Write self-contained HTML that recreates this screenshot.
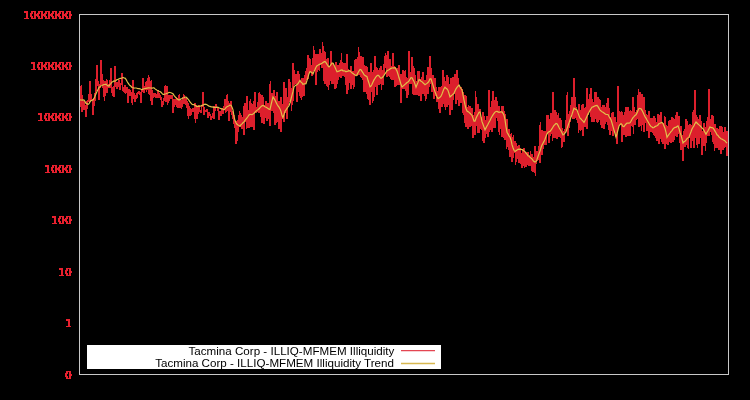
<!DOCTYPE html>
<html><head><meta charset="utf-8"><style>
html,body{margin:0;padding:0;background:#000;}
body{width:750px;height:400px;position:relative;overflow:hidden;font-family:"Liberation Sans",sans-serif;}
svg{position:absolute;left:0;top:0;}
.leg{position:absolute;left:87px;top:345px;width:354px;height:24px;background:#fff;}
.lt{position:absolute;right:47.5px;font-size:10.8px;line-height:12px;white-space:nowrap;transform:scaleX(1.076);transform-origin:right center;filter:grayscale(1);color:#000;}
</style></head><body>
<svg width="750" height="400" viewBox="0 0 750 400">
<path d="M80.0,101.1 80.7,107.3 81.4,84.8 82.1,112.0 82.8,104.1 83.5,110.3 84.2,100.9 84.9,110.3 85.6,104.9 86.3,116.6 87.0,101.6 87.7,101.8 88.4,99.9 89.1,101.6 89.8,81.0 90.5,101.3 91.2,94.4 91.9,101.0 92.6,100.8 93.3,114.7 94.0,98.5 94.7,100.9 95.4,92.9 96.1,87.8 96.8,65.0 97.5,80.9 98.2,81.9 98.9,99.7 99.6,83.6 100.3,87.7 101.0,60.0 101.7,85.0 102.4,74.5 103.1,87.9 103.8,84.1 104.5,100.6 105.2,80.9 105.9,92.6 106.6,79.0 107.3,92.8 108.0,84.3 108.7,86.1 109.4,85.1 110.1,87.3 110.8,68.2 111.5,92.8 112.2,86.9 112.9,95.8 113.6,85.7 114.3,96.9 115.0,66.0 115.7,87.2 116.4,81.8 117.1,88.9 117.8,82.4 118.5,87.2 119.2,80.4 119.9,89.5 120.6,85.0 121.3,83.7 122.0,73.5 122.7,91.4 123.4,87.0 124.1,88.0 124.8,85.3 125.5,94.2 126.2,87.2 126.9,91.1 127.6,87.0 128.3,103.4 129.0,89.6 129.7,95.4 130.4,90.2 131.1,94.9 131.8,96.6 132.5,104.6 133.2,80.2 133.9,98.6 134.6,96.4 135.3,101.6 136.0,94.7 136.7,98.4 137.4,92.4 138.1,93.6 138.8,91.4 139.5,92.5 140.2,92.3 140.9,102.5 141.6,91.1 142.3,91.0 143.0,78.0 143.7,93.4 144.4,86.3 145.1,88.9 145.8,81.7 146.5,92.1 147.2,80.8 147.9,84.6 148.6,75.0 149.3,94.2 150.0,89.5 150.7,100.6 151.4,79.7 152.1,105.3 152.8,93.5 153.5,97.9 154.2,93.1 154.9,95.1 155.6,93.3 156.3,97.7 157.0,94.8 157.7,97.7 158.4,89.8 159.1,97.6 159.8,95.0 160.5,98.8 161.2,97.7 161.9,106.9 162.6,101.4 163.3,105.1 164.0,97.7 164.7,99.4 165.4,84.8 166.1,102.1 166.8,86.4 167.5,104.9 168.2,95.4 168.9,101.4 169.6,95.3 170.3,98.9 171.0,95.6 171.7,98.7 172.4,94.6 173.1,112.5 173.8,98.9 174.5,106.5 175.2,100.3 175.9,103.3 176.6,97.5 177.3,107.4 178.0,104.5 178.7,107.8 179.4,93.8 180.1,106.7 180.8,104.5 181.5,108.8 182.2,100.3 182.9,103.4 183.6,93.8 184.3,103.5 185.0,102.2 185.7,105.3 186.4,97.4 187.1,107.9 187.8,103.4 188.5,119.0 189.2,106.1 189.9,115.7 190.6,108.2 191.3,114.6 192.0,109.3 192.7,111.1 193.4,107.9 194.1,111.7 194.8,103.0 195.5,122.5 196.2,105.3 196.9,118.8 197.6,107.4 198.3,113.8 199.0,104.6 199.7,111.8 200.4,110.4 201.1,113.1 201.8,104.8 202.5,107.1 203.2,91.8 203.9,115.2 204.6,111.3 205.3,111.5 206.0,110.0 206.7,111.6 207.4,109.4 208.1,118.3 208.8,112.0 209.5,114.6 210.2,114.6 210.9,120.0 211.6,116.1 212.3,118.2 213.0,113.2 213.7,118.7 214.4,105.6 215.1,110.9 215.8,104.6 216.5,107.8 217.2,107.0 217.9,110.4 218.5,107.9 219.2,120.0 219.9,110.7 220.5,115.2 221.2,114.7 221.8,111.9 222.5,108.5 223.1,114.4 223.7,106.5 224.4,109.6 225.0,99.4 225.6,113.1 226.2,106.6 226.8,110.7 227.4,94.0 228.0,109.2 228.6,101.2 229.2,120.6 229.8,104.6 230.4,109.7 230.9,100.8 231.5,114.9 232.1,111.4 232.6,117.0 233.2,115.7 233.7,123.9 234.3,115.0 234.8,127.8 235.3,121.2 235.9,144.2 236.4,125.9 236.9,140.6 237.4,119.8 238.0,132.2 238.5,120.8 239.0,124.5 239.5,110.7 240.0,126.9 240.5,113.0 240.9,125.2 241.4,115.1 241.9,128.7 242.4,120.0 242.9,120.0 243.3,117.2 243.8,134.7 244.2,106.2 244.7,113.8 245.2,103.5 245.6,119.2 246.1,109.5 246.5,129.2 247.0,96.2 247.4,128.4 247.9,111.2 248.3,120.6 248.8,109.6 249.2,127.7 249.7,100.8 250.1,126.5 250.6,98.9 251.0,118.8 251.5,113.0 251.9,127.1 252.4,110.0 252.8,125.8 253.3,104.5 253.7,130.0 254.2,100.7 254.6,116.2 255.1,92.2 255.5,112.0 256.0,107.9 256.4,113.4 256.9,108.5 257.3,108.0 257.8,102.1 258.2,111.9 258.7,93.4 259.1,112.7 259.6,91.6 260.0,106.2 260.5,98.8 260.9,116.5 261.4,98.3 261.8,122.5 262.3,94.8 262.7,108.1 263.2,97.2 263.6,123.7 264.1,108.5 264.5,123.7 265.0,105.4 265.4,110.4 265.9,101.1 266.3,113.1 266.8,106.9 267.2,121.1 267.7,103.5 268.1,118.8 268.6,102.6 269.0,115.4 269.5,102.1 269.9,126.3 270.4,81.0 270.8,105.2 271.3,94.2 271.7,110.5 272.2,92.7 272.6,104.4 273.1,97.1 273.5,112.6 274.0,90.4 274.4,110.9 274.9,102.7 275.3,124.8 275.8,96.2 276.2,122.9 276.7,91.7 277.1,114.2 277.6,106.0 278.0,122.2 278.5,100.9 278.9,128.5 279.4,102.9 279.8,120.1 280.3,101.3 280.7,131.9 281.2,97.2 281.6,118.7 282.1,108.6 282.5,113.2 283.0,103.9 283.4,120.6 283.9,82.5 284.3,121.6 284.8,102.4 285.2,108.1 285.7,88.1 286.1,112.9 286.6,94.2 287.0,118.8 287.5,97.4 287.9,105.1 288.4,98.6 288.8,101.5 289.3,79.4 289.7,94.3 290.2,82.2 290.6,99.8 291.1,87.8 291.5,111.2 292.0,92.6 292.4,102.8 292.9,63.0 293.3,101.4 293.8,70.4 294.2,84.9 294.7,74.2 295.1,84.2 295.6,81.8 296.0,84.2 296.5,73.9 296.9,102.0 297.4,83.9 297.8,91.9 298.3,71.2 298.7,86.1 299.2,73.7 299.6,95.7 300.1,82.1 300.5,93.0 301.0,88.5 301.4,99.5 301.9,78.4 302.3,96.7 302.8,83.9 303.2,92.8 303.7,77.9 304.1,96.0 304.6,79.1 305.0,84.3 305.5,71.4 305.9,78.2 306.4,70.7 306.8,80.1 307.3,68.2 307.7,79.4 308.2,55.0 308.6,72.4 309.1,57.9 309.5,72.4 310.0,58.6 310.4,71.4 310.9,64.6 311.3,72.3 311.8,68.2 312.2,75.6 312.7,63.2 313.1,69.8 313.6,46.2 314.0,70.0 314.5,70.3 314.9,69.7 315.4,59.8 315.8,84.5 316.3,53.9 316.7,70.7 317.2,61.4 317.6,71.7 318.1,54.3 318.5,65.8 319.0,55.5 319.4,71.1 319.9,49.2 320.3,61.8 320.8,62.1 321.2,64.9 321.7,53.5 322.1,67.6 322.6,41.8 323.0,66.9 323.5,55.0 323.9,80.6 324.4,50.6 324.8,83.8 325.3,52.0 325.7,77.1 326.2,59.5 326.6,85.5 327.1,66.1 327.5,83.8 328.0,58.1 328.4,89.8 328.9,68.8 329.3,84.7 329.8,66.2 330.2,81.3 330.7,50.8 331.1,73.2 331.6,59.4 332.0,84.2 332.5,71.5 332.9,81.7 333.4,62.8 333.8,84.2 334.3,70.3 334.7,89.4 335.2,67.5 335.6,81.0 336.1,61.8 336.5,88.2 337.0,67.2 337.4,83.5 337.9,65.0 338.3,79.5 338.8,65.4 339.2,77.1 339.7,62.8 340.1,67.8 340.6,67.1 341.0,77.8 341.5,53.1 341.9,74.9 342.4,62.3 342.8,75.5 343.3,67.0 343.7,72.8 344.2,63.1 344.6,76.0 345.1,70.2 345.5,79.7 346.0,62.9 346.4,86.8 346.9,54.5 347.3,93.9 347.8,69.2 348.2,89.6 348.7,71.6 349.1,82.1 349.6,74.5 350.0,82.7 350.5,66.3 350.9,89.0 351.4,66.5 351.8,81.0 352.3,76.5 352.7,84.9 353.2,71.1 353.6,89.0 354.1,74.5 354.5,82.5 355.0,60.1 355.4,70.7 355.9,59.4 356.3,74.4 356.8,61.3 357.2,76.1 357.7,59.6 358.1,68.2 358.6,47.0 359.0,74.9 359.5,59.0 359.9,71.4 360.4,62.4 360.8,76.5 361.3,55.6 361.7,78.3 362.2,60.7 362.6,79.5 363.1,57.4 363.5,92.2 364.0,65.1 364.4,89.5 364.9,70.3 365.3,91.8 365.8,65.6 366.2,85.3 366.7,66.7 367.1,93.5 367.6,74.4 368.0,98.6 368.5,72.0 368.9,100.0 369.4,71.9 369.8,105.0 370.3,79.4 370.7,90.7 371.2,63.1 371.6,86.6 372.1,71.7 372.5,102.8 373.0,74.4 373.4,101.4 373.9,69.8 374.3,97.0 374.8,56.2 375.2,81.1 375.7,67.2 376.1,87.3 376.6,68.6 377.0,94.5 377.5,68.1 377.9,76.9 378.4,73.2 378.8,84.7 379.3,70.1 379.7,83.8 380.2,68.3 380.6,79.5 381.1,66.1 381.5,89.7 382.0,71.9 382.4,78.2 382.9,70.0 383.3,84.5 383.8,63.6 384.2,75.0 384.7,55.7 385.1,65.0 385.6,53.4 386.0,67.8 386.5,61.3 386.9,76.9 387.4,53.2 387.8,69.1 388.3,51.5 388.7,76.3 389.2,62.2 389.6,76.6 390.1,59.2 390.5,79.2 391.0,65.8 391.4,72.8 391.9,66.1 392.3,79.7 392.8,53.2 393.2,75.3 393.7,65.9 394.1,79.6 394.6,68.2 395.0,86.8 395.5,66.8 395.9,86.2 396.4,74.0 396.8,79.6 397.3,68.4 397.7,85.4 398.2,73.9 398.6,80.2 399.1,65.1 399.5,79.7 400.0,79.1 400.4,85.7 400.9,73.6 401.3,102.8 401.8,79.9 402.2,88.9 402.7,70.2 403.1,82.0 403.6,74.6 404.0,88.5 404.5,72.2 404.9,83.8 405.4,70.1 405.8,90.6 406.3,76.7 406.7,97.9 407.2,78.1 407.6,97.5 408.1,78.9 408.5,83.2 409.0,51.0 409.4,83.7 409.9,75.9 410.3,83.4 410.8,71.8 411.2,83.9 411.7,56.7 412.1,84.2 412.6,69.1 413.0,94.4 413.5,65.6 413.9,94.8 414.4,67.8 414.8,94.7 415.3,75.5 415.7,90.4 416.2,81.4 416.6,94.5 417.1,81.9 417.5,94.7 418.0,71.4 418.4,96.0 418.9,71.0 419.3,96.4 419.8,78.8 420.2,93.8 420.7,82.0 421.1,101.0 421.6,82.5 422.0,88.6 422.5,72.4 422.9,94.3 423.4,72.2 423.8,86.7 424.3,82.7 424.7,96.0 425.2,79.7 425.6,101.2 426.1,85.4 426.5,88.7 427.0,75.2 427.4,89.3 427.9,66.8 428.3,94.0 428.8,68.8 429.2,86.8 429.7,56.5 430.1,84.3 430.6,65.9 431.0,78.8 431.5,79.7 431.9,91.6 432.4,76.4 432.8,86.2 433.3,74.7 433.7,98.8 434.2,80.4 434.6,98.8 435.1,78.1 435.5,94.6 436.0,87.0 436.4,94.2 436.9,91.5 437.3,102.4 437.8,92.0 438.2,101.7 438.7,87.2 439.1,108.8 439.6,91.9 440.0,112.8 440.5,94.2 440.9,105.4 441.4,85.6 441.8,107.4 442.3,88.4 442.7,102.5 443.2,70.0 443.6,104.0 444.1,77.5 444.5,97.7 445.0,80.8 445.4,109.5 445.9,80.7 446.3,104.9 446.8,75.0 447.2,106.6 447.7,77.4 448.1,105.2 448.6,81.5 449.0,105.1 449.5,84.0 449.9,115.0 450.4,89.6 450.8,97.2 451.3,78.5 451.7,110.0 452.2,87.1 452.6,93.6 453.1,77.5 453.5,100.1 454.0,76.8 454.4,94.4 454.9,74.2 455.3,91.4 455.8,77.2 456.2,104.0 456.7,70.0 457.1,95.1 457.6,72.7 458.0,99.8 458.5,80.6 458.9,106.1 459.4,85.0 459.8,99.0 460.3,88.4 460.7,102.9 461.2,87.5 461.6,97.5 462.1,89.3 462.5,106.5 463.0,92.2 463.4,115.4 463.9,94.6 464.3,112.0 464.8,95.1 465.2,123.1 465.7,96.5 466.1,127.4 466.6,103.7 467.0,124.7 467.5,110.6 467.9,128.7 468.4,105.4 468.8,126.1 469.3,111.2 469.7,127.2 470.2,106.0 470.6,126.0 471.1,111.2 471.5,123.6 472.0,107.8 472.4,127.2 472.9,115.1 473.3,138.0 473.8,115.1 474.2,130.6 474.7,120.0 475.1,135.4 475.6,91.0 476.0,123.7 476.5,109.0 476.9,126.1 477.4,103.7 477.8,132.5 478.3,103.7 478.7,133.3 479.2,110.1 479.6,123.2 480.1,109.4 480.5,122.1 481.0,117.1 481.4,129.9 481.9,118.8 482.3,128.3 482.8,111.6 483.2,140.5 483.7,127.7 484.1,142.5 484.6,115.7 485.0,138.4 485.5,123.4 485.9,134.1 486.4,121.3 486.8,128.3 487.3,115.7 487.7,136.8 488.2,115.9 488.6,135.9 489.1,90.0 489.5,131.8 490.0,116.6 490.4,122.8 490.9,107.1 491.3,130.3 491.8,101.1 492.2,132.0 492.7,91.5 493.1,112.7 493.6,94.2 494.0,128.4 494.5,106.4 494.9,128.0 495.4,107.0 495.8,118.3 496.3,97.0 496.7,118.0 497.2,101.2 497.6,118.4 498.1,107.4 498.5,127.8 499.0,105.9 499.4,134.8 499.9,112.5 500.3,121.2 500.8,111.5 501.2,128.5 501.7,106.0 502.1,136.8 502.6,106.3 503.0,128.0 503.5,105.8 503.9,138.3 504.4,111.3 504.8,140.0 505.3,113.6 505.7,135.4 506.2,132.5 506.6,148.6 507.1,119.2 507.5,144.7 508.0,131.7 508.4,148.5 508.9,128.7 509.3,149.8 509.8,134.4 510.2,156.8 510.7,140.5 511.1,153.8 511.6,133.1 512.0,161.7 512.5,139.4 512.9,158.0 513.4,135.3 513.8,152.1 514.3,143.1 514.7,152.7 515.2,140.9 515.6,165.0 516.1,143.4 516.5,156.6 517.0,146.4 517.4,158.6 517.9,147.1 518.3,156.1 518.8,145.3 519.2,163.0 519.7,148.0 520.1,158.5 520.6,151.3 521.0,163.8 521.5,156.0 521.9,167.6 522.4,154.0 522.8,166.0 523.3,149.3 523.7,159.2 524.2,147.9 524.6,168.4 525.1,156.4 525.5,159.0 526.0,152.4 526.4,166.9 526.9,154.1 527.3,163.3 527.8,152.3 528.2,164.9 528.7,155.1 529.1,165.6 529.6,154.6 530.0,165.9 530.5,151.4 530.9,165.1 531.4,164.4 531.8,171.4 532.3,154.0 532.7,172.4 533.2,157.2 533.6,167.2 534.1,156.6 534.5,166.7 535.0,146.5 535.4,175.5 535.9,154.4 536.3,163.8 536.8,150.9 537.2,160.9 537.7,152.6 538.1,160.1 538.6,145.7 539.0,155.0 539.5,142.8 539.9,163.1 540.4,122.0 540.8,151.3 541.3,131.0 541.7,154.5 542.2,130.4 542.6,151.2 543.1,137.5 543.5,142.0 544.0,131.1 544.4,139.7 544.9,132.3 545.3,144.7 545.8,131.2 546.2,144.6 546.7,115.0 547.1,133.8 547.6,120.7 548.0,129.9 548.5,115.5 548.9,142.5 549.4,119.8 549.8,135.8 550.3,119.0 550.7,134.1 551.2,113.0 551.6,129.1 552.1,113.0 552.5,141.0 553.0,92.0 553.4,138.1 553.9,127.3 554.3,133.5 554.8,109.9 555.2,138.1 555.7,114.3 556.1,130.1 556.6,111.7 557.0,138.7 557.5,118.0 557.9,133.8 558.4,113.5 558.8,136.5 559.3,119.6 559.7,130.8 560.2,117.6 560.6,138.3 561.1,119.9 561.5,148.0 562.0,128.5 562.4,147.3 562.9,130.9 563.3,140.5 563.8,133.4 564.2,142.2 564.7,131.4 565.1,131.5 565.6,127.8 566.0,131.4 566.5,115.3 566.9,129.4 567.4,92.0 567.8,135.7 568.3,117.4 568.7,128.0 569.2,114.4 569.6,124.0 570.1,110.7 570.5,122.4 571.0,105.3 571.4,113.0 571.9,97.3 572.3,113.9 572.8,112.8 573.2,118.7 573.7,78.0 574.1,119.0 574.6,94.5 575.0,112.8 575.5,99.3 575.9,117.9 576.4,110.7 576.8,120.1 577.3,114.4 577.7,122.7 578.2,110.8 578.6,133.3 579.1,103.6 579.5,130.0 580.0,122.8 580.4,130.9 580.9,110.4 581.3,130.1 581.8,104.9 582.2,119.4 582.7,103.9 583.1,135.6 583.6,107.8 584.0,119.9 584.5,111.9 584.9,127.1 585.4,106.8 585.8,123.6 586.3,111.5 586.7,128.5 587.2,87.8 587.6,116.8 588.1,99.0 588.5,115.3 589.0,100.6 589.4,107.7 589.9,93.7 590.3,107.0 590.8,87.8 591.2,117.0 591.7,99.4 592.1,122.3 592.6,102.5 593.0,120.6 593.5,105.9 593.9,121.9 594.4,100.3 594.8,119.2 595.3,91.8 595.7,117.2 596.2,91.6 596.6,122.0 597.1,107.2 597.5,122.7 598.0,96.8 598.4,121.9 598.9,99.4 599.3,120.2 599.8,100.0 600.2,119.1 600.7,106.6 601.1,125.2 601.6,108.7 602.0,128.0 602.5,105.4 602.9,125.6 603.4,108.1 603.8,129.2 604.3,104.7 604.7,122.8 605.2,106.7 605.6,123.6 606.1,112.2 606.5,114.3 607.0,103.0 607.4,119.0 607.9,98.1 608.3,125.0 608.8,107.7 609.2,129.6 609.7,124.4 610.1,134.9 610.6,119.9 611.0,128.7 611.5,113.3 611.9,131.4 612.4,116.6 612.8,136.4 613.3,112.1 613.7,129.0 614.2,117.5 614.6,131.2 615.1,117.2 615.5,137.1 616.0,126.0 616.4,137.0 616.9,121.6 617.3,144.2 617.8,86.5 618.2,129.0 618.7,111.1 619.1,125.4 619.6,117.6 620.0,124.5 620.5,119.7 620.9,121.5 621.4,110.8 621.8,142.0 622.3,112.1 622.7,135.3 623.2,117.7 623.6,127.4 624.1,115.4 624.5,135.3 625.0,112.4 625.4,136.1 625.9,107.5 626.3,136.5 626.8,109.8 627.2,121.3 627.7,107.3 628.1,135.9 628.6,112.9 629.0,124.2 629.5,111.4 629.9,135.6 630.4,110.2 630.8,125.6 631.3,114.8 631.7,115.8 632.2,111.0 632.6,126.9 633.1,97.0 633.5,133.5 634.0,107.2 634.4,125.2 634.9,114.8 635.3,124.7 635.8,112.5 636.2,120.3 636.7,109.9 637.1,119.0 637.6,103.6 638.0,110.4 638.5,89.5 638.9,127.3 639.4,98.0 639.8,123.4 640.3,92.0 640.7,126.2 641.2,99.0 641.6,131.0 642.1,94.4 642.5,120.1 643.0,108.4 643.4,119.0 643.9,97.0 644.3,131.9 644.8,109.6 645.2,120.1 645.7,119.2 646.1,122.9 646.6,114.1 647.0,131.2 647.5,115.7 647.9,129.7 648.4,114.3 648.8,138.2 649.3,111.2 649.7,126.8 650.2,117.7 650.6,131.5 651.1,118.5 651.5,130.9 652.0,120.2 652.4,132.7 652.9,118.0 653.3,126.2 653.8,115.7 654.2,134.9 654.7,120.1 655.1,135.6 655.6,117.9 656.0,137.8 656.5,128.6 656.9,140.5 657.4,127.6 657.8,139.1 658.3,114.0 658.7,143.9 659.2,115.4 659.6,130.4 660.1,120.2 660.5,128.6 661.0,112.0 661.4,141.9 661.9,124.0 662.3,138.1 662.8,122.6 663.2,143.8 663.7,127.1 664.1,144.3 664.6,115.8 665.0,149.4 665.5,116.8 665.9,136.6 666.4,126.8 666.8,143.5 667.3,126.3 667.7,145.3 668.2,127.0 668.6,144.2 669.1,121.2 669.5,141.6 670.0,119.7 670.4,142.6 670.9,126.2 671.3,143.2 671.8,117.4 672.2,135.0 672.7,118.0 673.1,141.9 673.6,123.1 674.0,140.3 674.5,119.3 674.9,135.6 675.4,123.1 675.8,133.5 676.3,115.3 676.7,136.7 677.2,112.0 677.6,132.0 678.1,124.3 678.5,131.1 679.0,116.5 679.4,136.2 679.9,125.7 680.3,143.3 680.8,125.7 681.2,149.8 681.7,140.2 682.1,150.0 682.6,134.7 683.0,161.0 683.5,137.8 683.9,147.3 684.4,129.7 684.8,146.6 685.3,129.2 685.7,145.2 686.2,119.0 686.6,137.5 687.1,120.8 687.5,137.9 688.0,129.8 688.4,149.4 688.9,124.8 689.3,133.1 689.8,124.3 690.2,138.2 690.7,128.4 691.1,147.5 691.6,134.3 692.0,140.7 692.5,119.3 692.9,134.6 693.4,110.4 693.8,147.8 694.3,120.6 694.7,137.8 695.2,90.0 695.6,132.5 696.1,114.7 696.5,133.1 697.0,117.4 697.4,148.3 697.9,119.3 698.3,132.1 698.8,119.8 699.2,143.8 699.7,115.3 700.1,136.6 700.6,117.6 701.0,138.0 701.5,129.0 701.9,154.9 702.4,131.3 702.8,143.9 703.3,132.4 703.7,145.8 704.2,122.6 704.6,145.9 705.1,129.0 705.5,151.0 706.0,126.8 706.4,140.1 706.9,121.5 707.3,135.9 707.8,117.3 708.2,130.8 708.7,89.0 709.1,136.2 709.6,116.4 710.0,132.4 710.5,121.1 710.9,132.1 711.4,117.7 711.8,134.9 712.3,115.0 712.7,141.9 713.2,116.3 713.6,133.8 714.1,128.9 714.5,151.3 715.0,124.3 715.4,148.0 715.9,137.3 716.3,141.1 716.8,127.8 717.2,147.5 717.7,129.2 718.1,143.8 718.6,128.6 719.0,150.3 719.5,125.6 719.9,143.8 720.4,130.4 720.8,154.2 721.3,126.2 721.7,149.5 722.2,126.7 722.6,148.1 723.1,138.9 723.5,149.5 724.0,132.3 724.4,148.0 724.9,127.0 725.3,146.6 725.8,130.7 726.2,138.2 726.7,130.9 727.1,156.0" fill="none" stroke="#dc1f2c" stroke-width="1.7" stroke-linejoin="bevel" shape-rendering="crispEdges"/>
<path d="M80.0,99.9 81.0,100.0 82.0,100.1 83.0,99.9 84.0,100.1 85.0,101.5 86.0,103.4 87.0,103.6 88.0,104.5 89.0,103.7 90.0,101.9 91.0,100.6 92.0,100.3 93.0,99.9 94.0,98.5 95.0,96.3 96.0,93.8 97.0,91.5 98.0,89.5 99.0,87.7 100.0,86.7 101.0,85.8 102.0,85.5 103.0,85.0 104.0,84.5 105.0,84.5 106.0,84.2 107.0,85.1 108.0,85.9 109.0,86.0 110.0,84.4 111.0,83.3 112.0,81.9 113.0,81.6 114.0,81.0 115.0,81.2 116.0,80.5 117.0,79.5 118.0,79.3 119.0,78.9 120.0,78.3 121.0,78.4 122.0,78.0 123.0,77.4 124.0,78.0 125.0,78.1 126.0,79.3 127.0,81.3 128.0,82.9 129.0,84.4 130.0,85.6 131.0,86.3 132.0,87.5 133.0,87.8 134.0,88.1 135.0,88.0 136.0,88.0 137.0,88.3 138.0,88.7 139.0,88.6 140.0,88.8 141.0,89.3 142.0,89.6 143.0,89.1 144.0,88.8 145.0,88.5 146.0,88.3 147.0,88.2 148.0,87.9 149.0,87.9 150.0,88.0 151.0,88.0 152.0,88.2 153.0,87.9 154.0,87.8 155.0,88.9 156.0,89.5 157.0,90.2 158.0,90.5 159.0,91.2 160.0,91.5 161.0,92.3 162.0,93.4 163.0,94.4 164.0,94.3 165.0,94.0 166.0,93.8 167.0,93.3 168.0,93.0 169.0,92.4 170.0,92.5 171.0,92.7 172.0,93.2 173.0,93.8 174.0,95.3 175.0,96.6 176.0,97.9 177.0,98.7 178.0,99.6 179.0,100.1 180.0,99.5 181.0,98.9 182.0,98.5 183.0,98.0 184.0,97.7 185.0,97.1 186.0,97.1 187.0,98.0 188.0,99.1 189.0,100.4 190.0,102.0 191.0,103.1 192.0,104.2 193.0,104.7 194.0,104.6 195.0,105.3 196.0,105.9 197.0,106.5 198.0,106.2 199.0,106.3 200.0,106.1 201.0,105.9 202.0,105.4 203.0,105.2 204.0,104.5 205.0,104.1 206.0,104.3 207.0,104.7 208.0,105.4 209.0,106.1 210.0,106.3 211.0,106.8 212.0,106.9 213.0,107.1 214.0,107.4 215.0,107.4 216.0,107.3 217.0,107.1 218.0,107.3 219.0,107.8 220.0,108.2 221.0,108.7 222.0,108.8 223.0,109.3 224.0,109.8 225.0,108.8 226.0,107.7 227.0,106.7 228.0,106.2 229.0,105.8 230.0,105.1 231.0,105.2 232.0,107.3 233.0,109.9 234.0,116.6 235.0,120.6 236.0,122.7 237.0,124.3 238.0,125.0 239.0,125.5 240.0,126.2 241.0,124.7 242.0,123.9 243.0,122.8 244.0,121.9 245.0,120.4 246.0,119.2 247.0,117.9 248.0,116.5 249.0,114.9 250.0,114.4 251.0,114.5 252.0,114.7 253.0,114.1 254.0,113.2 255.0,112.2 256.0,111.2 257.0,110.4 258.0,109.6 259.0,108.8 260.0,107.6 261.0,106.6 262.0,105.8 263.0,105.5 264.0,106.1 265.0,106.7 266.0,107.2 267.0,107.7 268.0,108.6 269.0,109.1 270.0,109.5 271.0,105.0 272.0,100.9 273.0,96.9 274.0,98.4 275.0,100.1 276.0,102.2 277.0,104.2 278.0,106.0 279.0,107.2 280.0,108.9 281.0,111.4 282.0,115.6 283.0,117.6 284.0,114.4 285.0,111.3 286.0,109.9 287.0,108.4 288.0,107.0 289.0,105.7 290.0,102.9 291.0,99.0 292.0,95.1 293.0,91.4 294.0,86.8 295.0,85.9 296.0,85.1 297.0,84.7 298.0,83.7 299.0,82.0 300.0,80.4 301.0,82.1 302.0,82.9 303.0,84.5 304.0,83.8 305.0,83.9 306.0,83.7 307.0,80.4 308.0,77.2 309.0,73.7 310.0,71.6 311.0,72.1 312.0,72.7 313.0,73.8 314.0,71.4 315.0,69.5 316.0,67.2 317.0,65.8 318.0,65.3 319.0,64.6 320.0,64.1 321.0,63.7 322.0,63.3 323.0,62.5 324.0,61.9 325.0,61.5 326.0,62.7 327.0,64.3 328.0,66.0 329.0,67.0 330.0,65.9 331.0,64.7 332.0,63.0 333.0,63.3 334.0,65.1 335.0,67.3 336.0,69.6 337.0,71.7 338.0,71.4 339.0,71.2 340.0,70.6 341.0,70.2 342.0,70.0 343.0,70.8 344.0,70.9 345.0,71.0 346.0,71.7 347.0,71.3 348.0,71.1 349.0,70.6 350.0,70.9 351.0,71.9 352.0,72.7 353.0,73.6 354.0,74.3 355.0,74.9 356.0,75.7 357.0,74.8 358.0,72.7 359.0,71.0 360.0,69.4 361.0,69.8 362.0,71.3 363.0,72.8 364.0,74.7 365.0,75.6 366.0,76.1 367.0,76.7 368.0,80.3 369.0,83.2 370.0,86.8 371.0,86.0 372.0,84.2 373.0,81.9 374.0,79.9 375.0,78.4 376.0,76.8 377.0,75.8 378.0,75.3 379.0,76.0 380.0,77.3 381.0,78.3 382.0,77.7 383.0,76.8 384.0,75.4 385.0,73.8 386.0,72.3 387.0,70.8 388.0,70.3 389.0,69.8 390.0,69.1 391.0,68.4 392.0,68.0 393.0,67.8 394.0,68.0 395.0,67.5 396.0,69.2 397.0,71.1 398.0,74.2 399.0,77.8 400.0,80.8 401.0,84.6 402.0,87.0 403.0,86.1 404.0,85.3 405.0,84.4 406.0,83.5 407.0,82.5 408.0,82.0 409.0,80.9 410.0,79.2 411.0,77.6 412.0,77.7 413.0,79.6 414.0,81.4 415.0,84.1 416.0,87.3 417.0,84.8 418.0,82.4 419.0,79.6 420.0,80.1 421.0,81.2 422.0,81.7 423.0,82.8 424.0,83.7 425.0,84.7 426.0,84.1 427.0,83.4 428.0,82.5 429.0,81.2 430.0,78.8 431.0,78.9 432.0,82.2 433.0,85.4 434.0,88.8 435.0,91.8 436.0,94.3 437.0,96.7 438.0,98.6 439.0,97.9 440.0,97.2 441.0,96.1 442.0,94.0 443.0,91.2 444.0,88.8 445.0,87.2 446.0,88.3 447.0,89.0 448.0,90.4 449.0,93.5 450.0,96.9 451.0,96.0 452.0,95.1 453.0,94.3 454.0,93.1 455.0,90.9 456.0,88.8 457.0,87.3 458.0,86.2 459.0,85.1 460.0,86.9 461.0,88.5 462.0,89.9 463.0,95.0 464.0,100.1 465.0,104.7 466.0,108.5 467.0,111.1 468.0,111.6 469.0,112.4 470.0,113.3 471.0,114.3 472.0,115.3 473.0,118.1 474.0,121.2 475.0,121.2 476.0,118.3 477.0,116.1 478.0,114.2 479.0,112.2 480.0,112.0 481.0,116.7 482.0,121.7 483.0,124.2 484.0,127.1 485.0,129.8 486.0,127.9 487.0,126.0 488.0,124.2 489.0,122.3 490.0,120.5 491.0,118.2 492.0,116.5 493.0,114.9 494.0,113.4 495.0,112.1 496.0,111.5 497.0,111.4 498.0,111.9 499.0,112.4 500.0,112.2 501.0,111.8 502.0,111.8 503.0,113.3 504.0,115.2 505.0,119.7 506.0,126.6 507.0,132.2 508.0,133.9 509.0,135.8 510.0,137.0 511.0,140.0 512.0,144.7 513.0,147.7 514.0,150.3 515.0,151.5 516.0,150.7 517.0,150.0 518.0,149.4 519.0,149.2 520.0,149.3 521.0,149.4 522.0,149.6 523.0,150.1 524.0,150.9 525.0,151.6 526.0,153.1 527.0,154.2 528.0,155.7 529.0,156.2 530.0,157.3 531.0,158.1 532.0,159.0 533.0,160.4 534.0,161.6 535.0,162.1 536.0,161.6 537.0,159.4 538.0,156.5 539.0,153.7 540.0,151.1 541.0,147.8 542.0,145.1 543.0,143.2 544.0,141.4 545.0,139.2 546.0,136.4 547.0,133.9 548.0,132.4 549.0,131.7 550.0,131.4 551.0,130.2 552.0,128.7 553.0,127.0 554.0,125.4 555.0,124.5 556.0,123.4 557.0,123.7 558.0,125.4 559.0,127.5 560.0,129.2 561.0,130.8 562.0,132.7 563.0,135.0 564.0,134.4 565.0,133.0 566.0,131.9 567.0,128.9 568.0,125.7 569.0,122.9 570.0,119.9 571.0,117.0 572.0,114.4 573.0,111.2 574.0,108.2 575.0,108.9 576.0,109.4 577.0,109.9 578.0,112.9 579.0,115.6 580.0,118.2 581.0,118.9 582.0,120.1 583.0,121.2 584.0,122.5 585.0,120.5 586.0,118.4 587.0,116.3 588.0,114.1 589.0,112.2 590.0,110.5 591.0,108.8 592.0,107.2 593.0,106.9 594.0,106.4 595.0,105.8 596.0,105.6 597.0,105.4 598.0,106.7 599.0,108.4 600.0,110.2 601.0,110.9 602.0,111.7 603.0,112.3 604.0,113.0 605.0,113.8 606.0,114.5 607.0,114.5 608.0,114.5 609.0,116.5 610.0,118.1 611.0,119.8 612.0,123.0 613.0,126.7 614.0,130.1 615.0,133.5 616.0,137.1 617.0,133.7 618.0,129.9 619.0,126.0 620.0,124.7 621.0,123.7 622.0,124.6 623.0,126.4 624.0,126.6 625.0,125.2 626.0,124.0 627.0,123.1 628.0,123.1 629.0,123.1 630.0,122.7 631.0,121.3 632.0,119.2 633.0,117.7 634.0,116.7 635.0,115.4 636.0,114.8 637.0,112.9 638.0,110.5 639.0,108.4 640.0,108.5 641.0,108.8 642.0,110.3 643.0,112.3 644.0,114.6 645.0,116.6 646.0,118.1 647.0,120.0 648.0,121.7 649.0,123.5 650.0,125.1 651.0,126.5 652.0,127.0 653.0,127.8 654.0,127.5 655.0,126.6 656.0,126.1 657.0,125.8 658.0,125.0 659.0,123.5 660.0,123.3 661.0,122.7 662.0,122.5 663.0,123.5 664.0,126.0 665.0,128.5 666.0,132.4 667.0,137.4 668.0,135.8 669.0,134.3 670.0,133.0 671.0,131.6 672.0,130.6 673.0,129.0 674.0,128.0 675.0,127.4 676.0,127.3 677.0,126.5 678.0,125.9 679.0,128.7 680.0,132.2 681.0,135.2 682.0,138.9 683.0,142.9 684.0,141.8 685.0,141.2 686.0,140.2 687.0,138.7 688.0,137.9 689.0,137.1 690.0,134.4 691.0,131.8 692.0,129.0 693.0,127.3 694.0,125.6 695.0,123.6 696.0,122.0 697.0,123.0 698.0,124.0 699.0,124.9 700.0,125.7 701.0,126.9 702.0,128.1 703.0,128.6 704.0,130.4 705.0,132.4 706.0,134.2 707.0,132.2 708.0,130.8 709.0,128.7 710.0,126.8 711.0,127.6 712.0,127.7 713.0,128.0 714.0,129.4 715.0,131.1 716.0,132.8 717.0,134.8 718.0,135.5 719.0,137.0 720.0,137.9 721.0,138.8 722.0,139.1 723.0,139.7 724.0,140.3 725.0,140.9 726.0,142.1 727.0,143.1" fill="none" stroke="#e0c04a" stroke-width="1.2" shape-rendering="auto"/>
<g fill="#e8202e" shape-rendering="crispEdges"><rect x="24" y="11" width="4" height="1"/><rect x="24" y="12" width="4" height="1"/><rect x="26" y="13" width="2" height="1"/><rect x="26" y="14" width="2" height="1"/><rect x="26" y="15" width="2" height="1"/><rect x="26" y="16" width="2" height="1"/><rect x="26" y="17" width="2" height="1"/><rect x="24" y="18" width="5" height="1"/><rect x="31" y="11" width="5" height="1"/><rect x="31" y="12" width="2" height="1"/><rect x="34" y="12" width="2" height="1"/><rect x="30" y="13" width="3" height="1"/><rect x="34" y="13" width="2" height="1"/><rect x="30" y="14" width="2" height="1"/><rect x="34" y="14" width="3" height="1"/><rect x="30" y="15" width="2" height="1"/><rect x="34" y="15" width="3" height="1"/><rect x="30" y="16" width="3" height="1"/><rect x="34" y="16" width="2" height="1"/><rect x="31" y="17" width="2" height="1"/><rect x="34" y="17" width="2" height="1"/><rect x="31" y="18" width="5" height="1"/><rect x="38" y="11" width="5" height="1"/><rect x="38" y="12" width="2" height="1"/><rect x="41" y="12" width="2" height="1"/><rect x="37" y="13" width="3" height="1"/><rect x="41" y="13" width="2" height="1"/><rect x="37" y="14" width="2" height="1"/><rect x="41" y="14" width="3" height="1"/><rect x="37" y="15" width="2" height="1"/><rect x="41" y="15" width="3" height="1"/><rect x="37" y="16" width="3" height="1"/><rect x="41" y="16" width="2" height="1"/><rect x="38" y="17" width="2" height="1"/><rect x="41" y="17" width="2" height="1"/><rect x="38" y="18" width="5" height="1"/><rect x="45" y="11" width="5" height="1"/><rect x="45" y="12" width="2" height="1"/><rect x="48" y="12" width="2" height="1"/><rect x="44" y="13" width="3" height="1"/><rect x="48" y="13" width="2" height="1"/><rect x="44" y="14" width="2" height="1"/><rect x="48" y="14" width="3" height="1"/><rect x="44" y="15" width="2" height="1"/><rect x="48" y="15" width="3" height="1"/><rect x="44" y="16" width="3" height="1"/><rect x="48" y="16" width="2" height="1"/><rect x="45" y="17" width="2" height="1"/><rect x="48" y="17" width="2" height="1"/><rect x="45" y="18" width="5" height="1"/><rect x="52" y="11" width="5" height="1"/><rect x="52" y="12" width="2" height="1"/><rect x="55" y="12" width="2" height="1"/><rect x="51" y="13" width="3" height="1"/><rect x="55" y="13" width="2" height="1"/><rect x="51" y="14" width="2" height="1"/><rect x="55" y="14" width="3" height="1"/><rect x="51" y="15" width="2" height="1"/><rect x="55" y="15" width="3" height="1"/><rect x="51" y="16" width="3" height="1"/><rect x="55" y="16" width="2" height="1"/><rect x="52" y="17" width="2" height="1"/><rect x="55" y="17" width="2" height="1"/><rect x="52" y="18" width="5" height="1"/><rect x="59" y="11" width="5" height="1"/><rect x="59" y="12" width="2" height="1"/><rect x="62" y="12" width="2" height="1"/><rect x="58" y="13" width="3" height="1"/><rect x="62" y="13" width="2" height="1"/><rect x="58" y="14" width="2" height="1"/><rect x="62" y="14" width="3" height="1"/><rect x="58" y="15" width="2" height="1"/><rect x="62" y="15" width="3" height="1"/><rect x="58" y="16" width="3" height="1"/><rect x="62" y="16" width="2" height="1"/><rect x="59" y="17" width="2" height="1"/><rect x="62" y="17" width="2" height="1"/><rect x="59" y="18" width="5" height="1"/><rect x="66" y="11" width="5" height="1"/><rect x="66" y="12" width="2" height="1"/><rect x="69" y="12" width="2" height="1"/><rect x="65" y="13" width="3" height="1"/><rect x="69" y="13" width="2" height="1"/><rect x="65" y="14" width="2" height="1"/><rect x="69" y="14" width="3" height="1"/><rect x="65" y="15" width="2" height="1"/><rect x="69" y="15" width="3" height="1"/><rect x="65" y="16" width="3" height="1"/><rect x="69" y="16" width="2" height="1"/><rect x="66" y="17" width="2" height="1"/><rect x="69" y="17" width="2" height="1"/><rect x="66" y="18" width="5" height="1"/><rect x="31" y="62" width="4" height="1"/><rect x="31" y="63" width="4" height="1"/><rect x="33" y="64" width="2" height="1"/><rect x="33" y="65" width="2" height="1"/><rect x="33" y="66" width="2" height="1"/><rect x="33" y="67" width="2" height="1"/><rect x="33" y="68" width="2" height="1"/><rect x="31" y="69" width="5" height="1"/><rect x="38" y="62" width="5" height="1"/><rect x="38" y="63" width="2" height="1"/><rect x="41" y="63" width="2" height="1"/><rect x="37" y="64" width="3" height="1"/><rect x="41" y="64" width="2" height="1"/><rect x="37" y="65" width="2" height="1"/><rect x="41" y="65" width="3" height="1"/><rect x="37" y="66" width="2" height="1"/><rect x="41" y="66" width="3" height="1"/><rect x="37" y="67" width="3" height="1"/><rect x="41" y="67" width="2" height="1"/><rect x="38" y="68" width="2" height="1"/><rect x="41" y="68" width="2" height="1"/><rect x="38" y="69" width="5" height="1"/><rect x="45" y="62" width="5" height="1"/><rect x="45" y="63" width="2" height="1"/><rect x="48" y="63" width="2" height="1"/><rect x="44" y="64" width="3" height="1"/><rect x="48" y="64" width="2" height="1"/><rect x="44" y="65" width="2" height="1"/><rect x="48" y="65" width="3" height="1"/><rect x="44" y="66" width="2" height="1"/><rect x="48" y="66" width="3" height="1"/><rect x="44" y="67" width="3" height="1"/><rect x="48" y="67" width="2" height="1"/><rect x="45" y="68" width="2" height="1"/><rect x="48" y="68" width="2" height="1"/><rect x="45" y="69" width="5" height="1"/><rect x="52" y="62" width="5" height="1"/><rect x="52" y="63" width="2" height="1"/><rect x="55" y="63" width="2" height="1"/><rect x="51" y="64" width="3" height="1"/><rect x="55" y="64" width="2" height="1"/><rect x="51" y="65" width="2" height="1"/><rect x="55" y="65" width="3" height="1"/><rect x="51" y="66" width="2" height="1"/><rect x="55" y="66" width="3" height="1"/><rect x="51" y="67" width="3" height="1"/><rect x="55" y="67" width="2" height="1"/><rect x="52" y="68" width="2" height="1"/><rect x="55" y="68" width="2" height="1"/><rect x="52" y="69" width="5" height="1"/><rect x="59" y="62" width="5" height="1"/><rect x="59" y="63" width="2" height="1"/><rect x="62" y="63" width="2" height="1"/><rect x="58" y="64" width="3" height="1"/><rect x="62" y="64" width="2" height="1"/><rect x="58" y="65" width="2" height="1"/><rect x="62" y="65" width="3" height="1"/><rect x="58" y="66" width="2" height="1"/><rect x="62" y="66" width="3" height="1"/><rect x="58" y="67" width="3" height="1"/><rect x="62" y="67" width="2" height="1"/><rect x="59" y="68" width="2" height="1"/><rect x="62" y="68" width="2" height="1"/><rect x="59" y="69" width="5" height="1"/><rect x="66" y="62" width="5" height="1"/><rect x="66" y="63" width="2" height="1"/><rect x="69" y="63" width="2" height="1"/><rect x="65" y="64" width="3" height="1"/><rect x="69" y="64" width="2" height="1"/><rect x="65" y="65" width="2" height="1"/><rect x="69" y="65" width="3" height="1"/><rect x="65" y="66" width="2" height="1"/><rect x="69" y="66" width="3" height="1"/><rect x="65" y="67" width="3" height="1"/><rect x="69" y="67" width="2" height="1"/><rect x="66" y="68" width="2" height="1"/><rect x="69" y="68" width="2" height="1"/><rect x="66" y="69" width="5" height="1"/><rect x="38" y="113" width="4" height="1"/><rect x="38" y="114" width="4" height="1"/><rect x="40" y="115" width="2" height="1"/><rect x="40" y="116" width="2" height="1"/><rect x="40" y="117" width="2" height="1"/><rect x="40" y="118" width="2" height="1"/><rect x="40" y="119" width="2" height="1"/><rect x="38" y="120" width="5" height="1"/><rect x="45" y="113" width="5" height="1"/><rect x="45" y="114" width="2" height="1"/><rect x="48" y="114" width="2" height="1"/><rect x="44" y="115" width="3" height="1"/><rect x="48" y="115" width="2" height="1"/><rect x="44" y="116" width="2" height="1"/><rect x="48" y="116" width="3" height="1"/><rect x="44" y="117" width="2" height="1"/><rect x="48" y="117" width="3" height="1"/><rect x="44" y="118" width="3" height="1"/><rect x="48" y="118" width="2" height="1"/><rect x="45" y="119" width="2" height="1"/><rect x="48" y="119" width="2" height="1"/><rect x="45" y="120" width="5" height="1"/><rect x="52" y="113" width="5" height="1"/><rect x="52" y="114" width="2" height="1"/><rect x="55" y="114" width="2" height="1"/><rect x="51" y="115" width="3" height="1"/><rect x="55" y="115" width="2" height="1"/><rect x="51" y="116" width="2" height="1"/><rect x="55" y="116" width="3" height="1"/><rect x="51" y="117" width="2" height="1"/><rect x="55" y="117" width="3" height="1"/><rect x="51" y="118" width="3" height="1"/><rect x="55" y="118" width="2" height="1"/><rect x="52" y="119" width="2" height="1"/><rect x="55" y="119" width="2" height="1"/><rect x="52" y="120" width="5" height="1"/><rect x="59" y="113" width="5" height="1"/><rect x="59" y="114" width="2" height="1"/><rect x="62" y="114" width="2" height="1"/><rect x="58" y="115" width="3" height="1"/><rect x="62" y="115" width="2" height="1"/><rect x="58" y="116" width="2" height="1"/><rect x="62" y="116" width="3" height="1"/><rect x="58" y="117" width="2" height="1"/><rect x="62" y="117" width="3" height="1"/><rect x="58" y="118" width="3" height="1"/><rect x="62" y="118" width="2" height="1"/><rect x="59" y="119" width="2" height="1"/><rect x="62" y="119" width="2" height="1"/><rect x="59" y="120" width="5" height="1"/><rect x="66" y="113" width="5" height="1"/><rect x="66" y="114" width="2" height="1"/><rect x="69" y="114" width="2" height="1"/><rect x="65" y="115" width="3" height="1"/><rect x="69" y="115" width="2" height="1"/><rect x="65" y="116" width="2" height="1"/><rect x="69" y="116" width="3" height="1"/><rect x="65" y="117" width="2" height="1"/><rect x="69" y="117" width="3" height="1"/><rect x="65" y="118" width="3" height="1"/><rect x="69" y="118" width="2" height="1"/><rect x="66" y="119" width="2" height="1"/><rect x="69" y="119" width="2" height="1"/><rect x="66" y="120" width="5" height="1"/><rect x="45" y="165" width="4" height="1"/><rect x="45" y="166" width="4" height="1"/><rect x="47" y="167" width="2" height="1"/><rect x="47" y="168" width="2" height="1"/><rect x="47" y="169" width="2" height="1"/><rect x="47" y="170" width="2" height="1"/><rect x="47" y="171" width="2" height="1"/><rect x="45" y="172" width="5" height="1"/><rect x="52" y="165" width="5" height="1"/><rect x="52" y="166" width="2" height="1"/><rect x="55" y="166" width="2" height="1"/><rect x="51" y="167" width="3" height="1"/><rect x="55" y="167" width="2" height="1"/><rect x="51" y="168" width="2" height="1"/><rect x="55" y="168" width="3" height="1"/><rect x="51" y="169" width="2" height="1"/><rect x="55" y="169" width="3" height="1"/><rect x="51" y="170" width="3" height="1"/><rect x="55" y="170" width="2" height="1"/><rect x="52" y="171" width="2" height="1"/><rect x="55" y="171" width="2" height="1"/><rect x="52" y="172" width="5" height="1"/><rect x="59" y="165" width="5" height="1"/><rect x="59" y="166" width="2" height="1"/><rect x="62" y="166" width="2" height="1"/><rect x="58" y="167" width="3" height="1"/><rect x="62" y="167" width="2" height="1"/><rect x="58" y="168" width="2" height="1"/><rect x="62" y="168" width="3" height="1"/><rect x="58" y="169" width="2" height="1"/><rect x="62" y="169" width="3" height="1"/><rect x="58" y="170" width="3" height="1"/><rect x="62" y="170" width="2" height="1"/><rect x="59" y="171" width="2" height="1"/><rect x="62" y="171" width="2" height="1"/><rect x="59" y="172" width="5" height="1"/><rect x="66" y="165" width="5" height="1"/><rect x="66" y="166" width="2" height="1"/><rect x="69" y="166" width="2" height="1"/><rect x="65" y="167" width="3" height="1"/><rect x="69" y="167" width="2" height="1"/><rect x="65" y="168" width="2" height="1"/><rect x="69" y="168" width="3" height="1"/><rect x="65" y="169" width="2" height="1"/><rect x="69" y="169" width="3" height="1"/><rect x="65" y="170" width="3" height="1"/><rect x="69" y="170" width="2" height="1"/><rect x="66" y="171" width="2" height="1"/><rect x="69" y="171" width="2" height="1"/><rect x="66" y="172" width="5" height="1"/><rect x="52" y="216" width="4" height="1"/><rect x="52" y="217" width="4" height="1"/><rect x="54" y="218" width="2" height="1"/><rect x="54" y="219" width="2" height="1"/><rect x="54" y="220" width="2" height="1"/><rect x="54" y="221" width="2" height="1"/><rect x="54" y="222" width="2" height="1"/><rect x="52" y="223" width="5" height="1"/><rect x="59" y="216" width="5" height="1"/><rect x="59" y="217" width="2" height="1"/><rect x="62" y="217" width="2" height="1"/><rect x="58" y="218" width="3" height="1"/><rect x="62" y="218" width="2" height="1"/><rect x="58" y="219" width="2" height="1"/><rect x="62" y="219" width="3" height="1"/><rect x="58" y="220" width="2" height="1"/><rect x="62" y="220" width="3" height="1"/><rect x="58" y="221" width="3" height="1"/><rect x="62" y="221" width="2" height="1"/><rect x="59" y="222" width="2" height="1"/><rect x="62" y="222" width="2" height="1"/><rect x="59" y="223" width="5" height="1"/><rect x="66" y="216" width="5" height="1"/><rect x="66" y="217" width="2" height="1"/><rect x="69" y="217" width="2" height="1"/><rect x="65" y="218" width="3" height="1"/><rect x="69" y="218" width="2" height="1"/><rect x="65" y="219" width="2" height="1"/><rect x="69" y="219" width="3" height="1"/><rect x="65" y="220" width="2" height="1"/><rect x="69" y="220" width="3" height="1"/><rect x="65" y="221" width="3" height="1"/><rect x="69" y="221" width="2" height="1"/><rect x="66" y="222" width="2" height="1"/><rect x="69" y="222" width="2" height="1"/><rect x="66" y="223" width="5" height="1"/><rect x="59" y="268" width="4" height="1"/><rect x="59" y="269" width="4" height="1"/><rect x="61" y="270" width="2" height="1"/><rect x="61" y="271" width="2" height="1"/><rect x="61" y="272" width="2" height="1"/><rect x="61" y="273" width="2" height="1"/><rect x="61" y="274" width="2" height="1"/><rect x="59" y="275" width="5" height="1"/><rect x="66" y="268" width="5" height="1"/><rect x="66" y="269" width="2" height="1"/><rect x="69" y="269" width="2" height="1"/><rect x="65" y="270" width="3" height="1"/><rect x="69" y="270" width="2" height="1"/><rect x="65" y="271" width="2" height="1"/><rect x="69" y="271" width="3" height="1"/><rect x="65" y="272" width="2" height="1"/><rect x="69" y="272" width="3" height="1"/><rect x="65" y="273" width="3" height="1"/><rect x="69" y="273" width="2" height="1"/><rect x="66" y="274" width="2" height="1"/><rect x="69" y="274" width="2" height="1"/><rect x="66" y="275" width="5" height="1"/><rect x="66" y="319" width="4" height="1"/><rect x="66" y="320" width="4" height="1"/><rect x="68" y="321" width="2" height="1"/><rect x="68" y="322" width="2" height="1"/><rect x="68" y="323" width="2" height="1"/><rect x="68" y="324" width="2" height="1"/><rect x="68" y="325" width="2" height="1"/><rect x="66" y="326" width="5" height="1"/><rect x="66" y="371" width="5" height="1"/><rect x="66" y="372" width="2" height="1"/><rect x="69" y="372" width="2" height="1"/><rect x="65" y="373" width="3" height="1"/><rect x="69" y="373" width="2" height="1"/><rect x="65" y="374" width="2" height="1"/><rect x="69" y="374" width="3" height="1"/><rect x="65" y="375" width="2" height="1"/><rect x="69" y="375" width="3" height="1"/><rect x="65" y="376" width="3" height="1"/><rect x="69" y="376" width="2" height="1"/><rect x="66" y="377" width="2" height="1"/><rect x="69" y="377" width="2" height="1"/><rect x="66" y="378" width="5" height="1"/></g>
<rect x="79.5" y="14.5" width="649" height="360" fill="none" stroke="#c8c8c8" stroke-width="1"/>
</svg>
<div class="leg">
<div class="lt" style="top:0.06px;right:47px">Tacmina Corp - ILLIQ-MFMEM Illiquidity</div>
<div class="lt" style="top:11.66px">Tacmina Corp - ILLIQ-MFMEM Illiquidity Trend</div>
</div>
<svg width="750" height="400"><line x1="401" y1="350.5" x2="435" y2="350.5" stroke="#e44652" stroke-width="1.25"/><line x1="401" y1="363.5" x2="435" y2="363.5" stroke="#d8b850" stroke-width="1.3"/></svg>
</body></html>
